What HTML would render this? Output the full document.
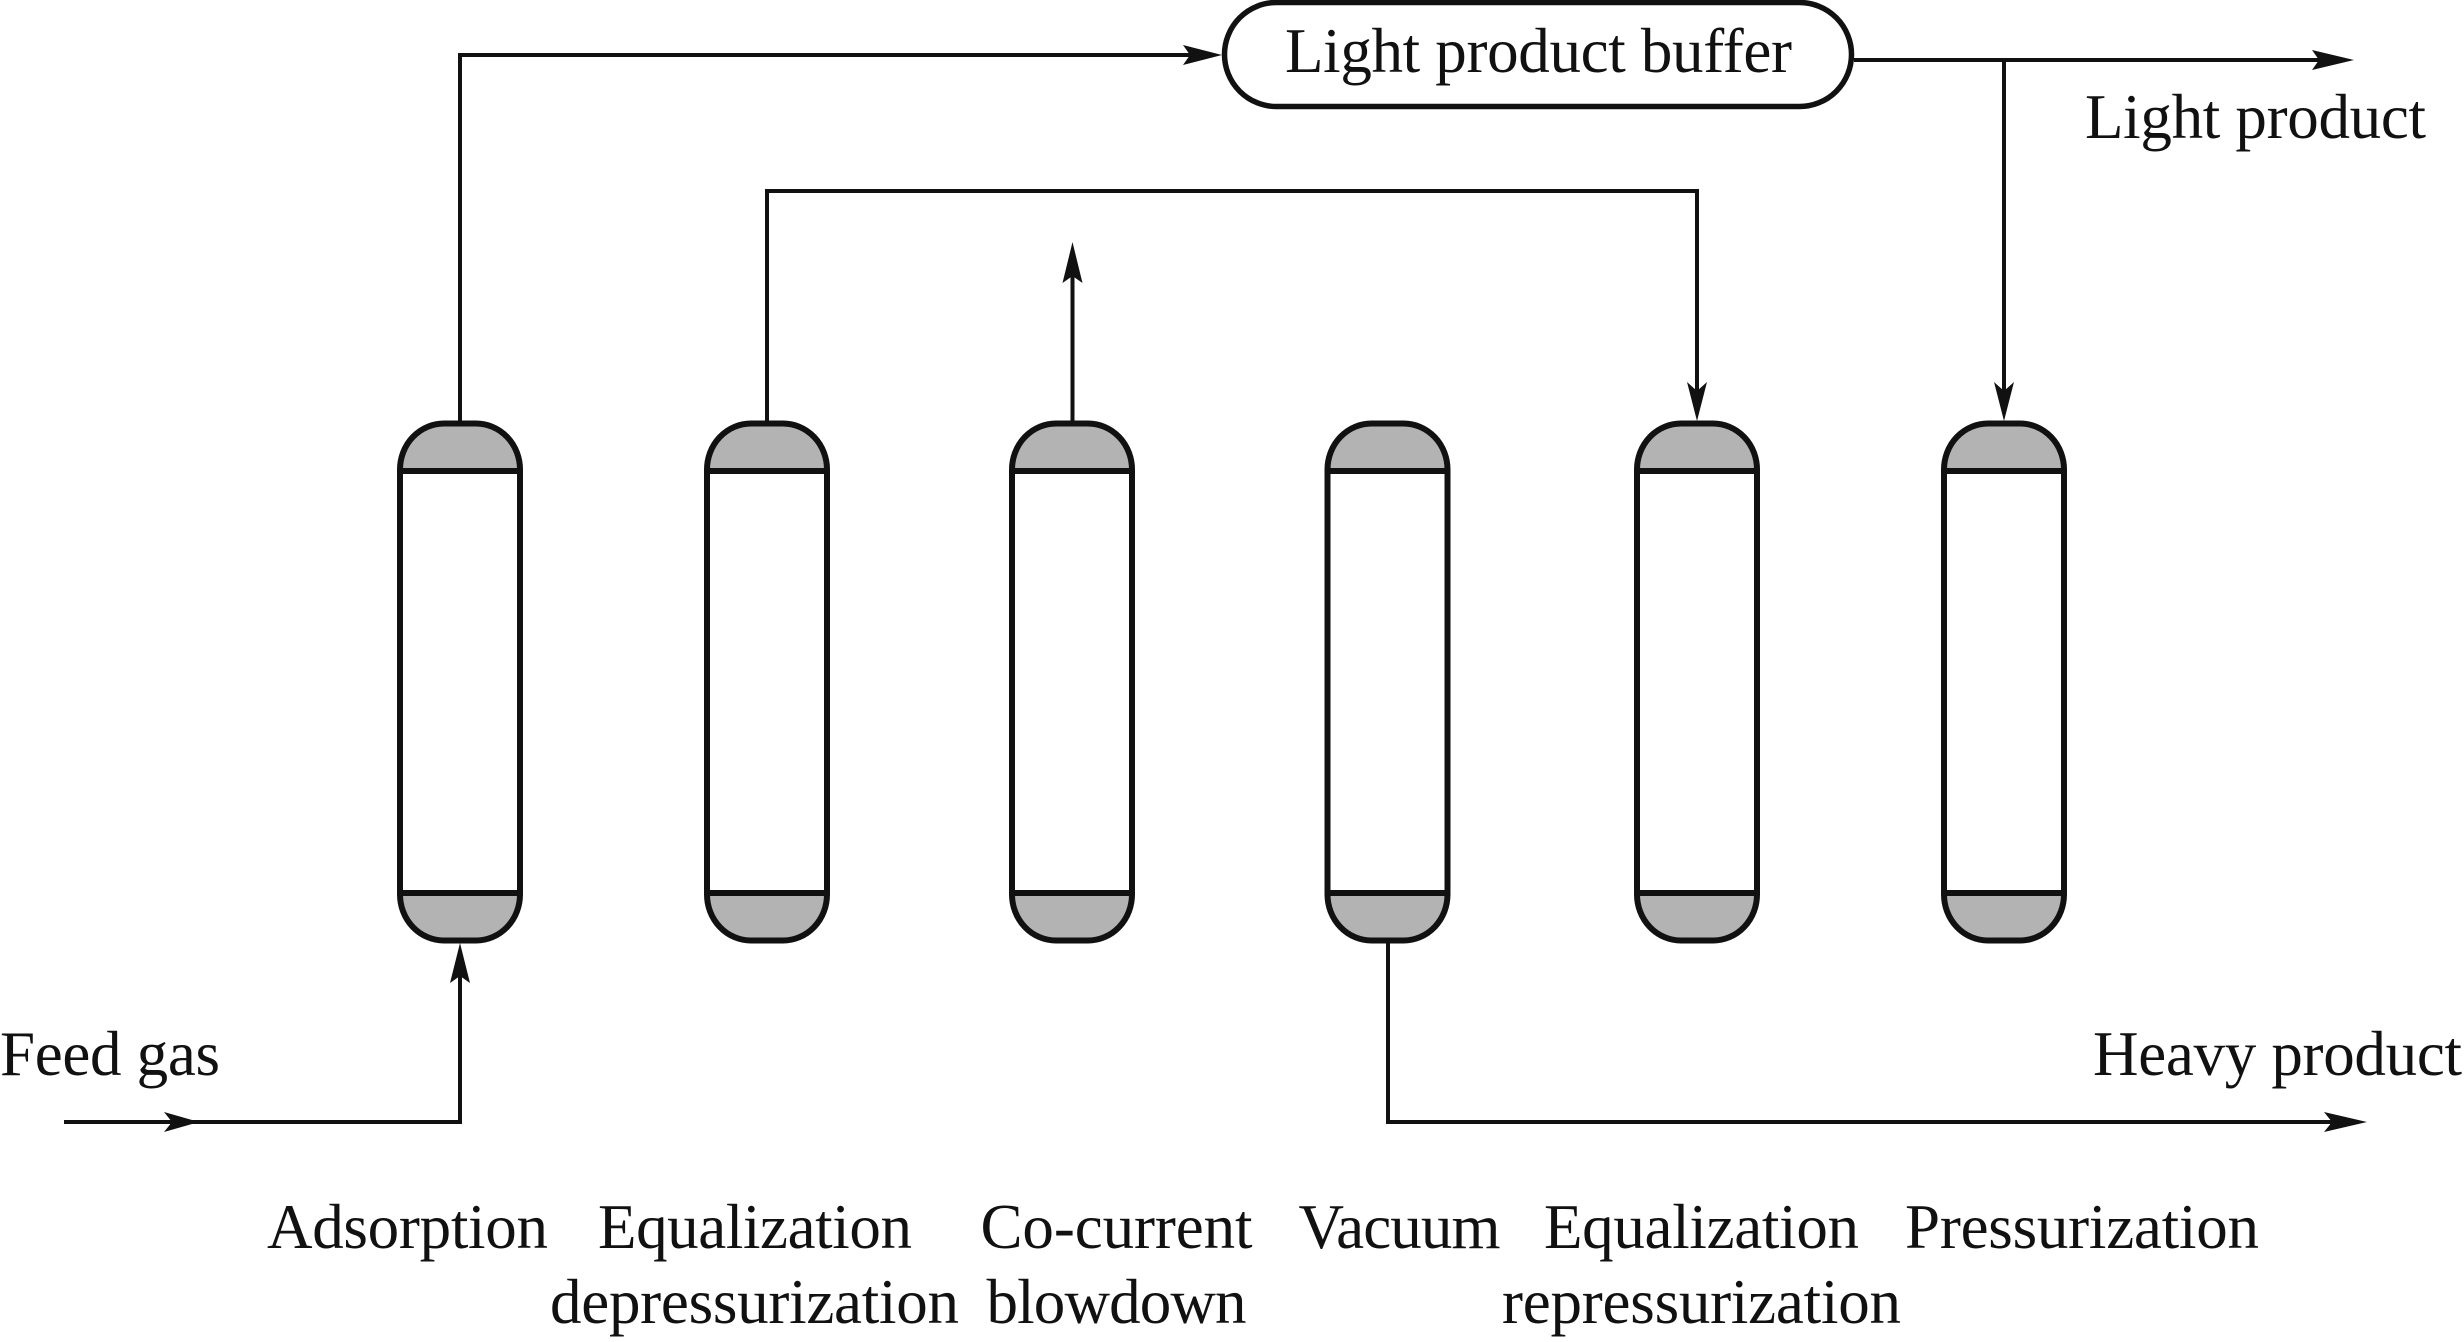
<!DOCTYPE html>
<html><head><meta charset="utf-8"><style>
html,body{margin:0;padding:0;background:#fff}
svg{display:block}
text{font-family:"Liberation Serif",serif;font-size:63px;fill:#111}
</style></head><body>
<svg width="2464" height="1342" viewBox="0 0 2464 1342" xmlns="http://www.w3.org/2000/svg">
<defs>
<g id="v">
<path d="M-60 471V469.500A44 46 0 0 1-16 423.500H16A44 46 0 0 1 60 469.500V471Z" fill="#b3b3b3"/>
<path d="M-60 893V894.500A44 46 0 0 0-16 940.500H16A44 46 0 0 0 60 894.500V893Z" fill="#b3b3b3"/>
<path d="M-60 469.500A44 46 0 0 1-16 423.500H16A44 46 0 0 1 60 469.500V894.500A44 46 0 0 1 16 940.500H-16A44 46 0 0 1-60 894.500Z" fill="none" stroke="#111" stroke-width="6"/>
<path d="M-60 471H60M-60 893H60" stroke="#111" stroke-width="6" fill="none"/>
</g>
</defs>
<g fill="none" stroke="#111" stroke-width="4">
<path d="M460 421V55H1190"/>
<path d="M1854 60H2325"/>
<path d="M2004 60V395"/>
<path d="M767 421V191H1697V395"/>
<path d="M1072.500 421V270"/>
<path d="M1388 943V1122H2340"/>
<path d="M64 1122H460V975"/>
</g>
<rect x="1224.500" y="2.500" width="627" height="104" rx="52" fill="#fff" stroke="#111" stroke-width="5.500"/>
<use href="#v" x="460"/><use href="#v" x="767"/><use href="#v" x="1072"/><use href="#v" x="1387.500"/><use href="#v" x="1697"/><use href="#v" x="2004"/>
<g fill="#111" stroke="none">
<path d="M1222 55L1183 45L1190 55L1183 65Z"/>
<path d="M2354 60L2312 50L2319 60L2312 70Z"/>
<path d="M2367 1122L2324 1112L2332 1122L2324 1132Z"/>
<path d="M199 1122L164 1112L172 1122L164 1132Z"/>
<path d="M2004 421L1994 382L2004 391L2014 382Z"/>
<path d="M1697 421L1687 382L1697 391L1707 382Z"/>
<path d="M1072.500 242L1062.500 283L1072.500 276L1082.500 283Z"/>
<path d="M460 943L450 983L460 976L470 983Z"/>
</g>
<text x="1285" y="72" textLength="507">Light product buffer</text>
<text x="2085" y="138" textLength="341">Light product</text>
<text x="0" y="1075" textLength="220">Feed gas</text>
<text x="2093" y="1075" textLength="369">Heavy product</text>
<text x="267" y="1248" textLength="281">Adsorption</text>
<text x="598" y="1248" textLength="314">Equalization</text>
<text x="550" y="1323" textLength="409">depressurization</text>
<text x="980.500" y="1248" textLength="272">Co-current</text>
<text x="986.500" y="1323" textLength="260">blowdown</text>
<text x="1298.500" y="1248" textLength="202">Vacuum</text>
<text x="1544" y="1248" textLength="315">Equalization</text>
<text x="1502" y="1323" textLength="399">repressurization</text>
<text x="1905" y="1248" textLength="354">Pressurization</text>
</svg>
</body></html>
